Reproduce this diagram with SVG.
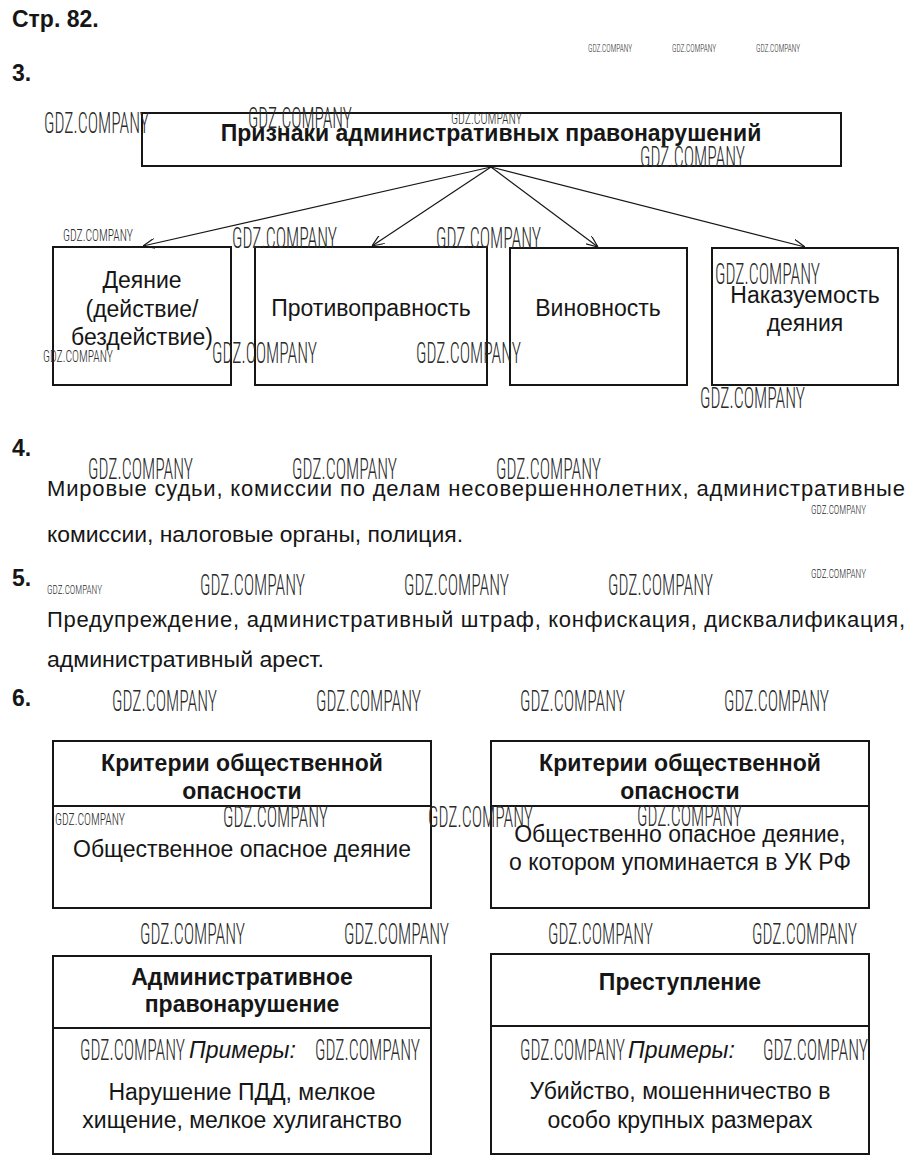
<svg xmlns="http://www.w3.org/2000/svg" width="917" height="1170" viewBox="0 0 917 1170">
<defs>
<style>
.t{font-family:"Liberation Sans",Arial,sans-serif;font-size:23px;fill:#161616}
.p{font-size:22px}
.b{font-weight:bold}
.c{text-anchor:middle}
.i{font-style:italic}
.box{fill:none;stroke:#161616;stroke-width:2}
.div{stroke:#161616;stroke-width:2}
.con{stroke:#161616;stroke-width:1.2;fill:none}
.wm{font-family:"Roboto Condensed",Roboto,"Liberation Sans",sans-serif;font-weight:300;fill:#2a2a2a}
.L{font-size:29px}
.S{font-size:17px}
.T{font-size:11px}
.U{font-size:13px}
</style>
<marker id="arr" viewBox="0 0 12 10" refX="12" refY="5" markerWidth="12" markerHeight="10" markerUnits="userSpaceOnUse" orient="auto">
<path d="M0,0 L12,5 L0,10" fill="none" stroke="#161616" stroke-width="1.2"/>
</marker>
</defs>
<rect width="917" height="1170" fill="#ffffff"/>

<g id="headings">
<text class="t b" x="12" y="27" font-size="22">Стр. 82.</text>
<text class="t b" x="12" y="81" font-size="20">3.</text>
<text class="t b" x="12" y="456" font-size="20">4.</text>
<text class="t b" x="12" y="586" font-size="20">5.</text>
<text class="t b" x="12" y="706" font-size="20">6.</text>
</g>

<g id="connectors">
<line class="con" x1="491" y1="167" x2="143" y2="246" marker-end="url(#arr)"/>
<line class="con" x1="491" y1="167" x2="372" y2="246" marker-end="url(#arr)"/>
<line class="con" x1="491" y1="167" x2="598" y2="247" marker-end="url(#arr)"/>
<line class="con" x1="491" y1="167" x2="805" y2="247" marker-end="url(#arr)"/>
</g>

<g id="node-title">
<rect class="box" x="142" y="113" width="699" height="53"/>
<text class="t b c" x="491" y="141">Признаки административных правонарушений</text>
</g>
<g id="node-deyanie">
<rect class="box" x="53" y="247" width="178" height="138"/>
<text class="t c" x="142" y="288">Деяние</text>
<text class="t c" x="142" y="317">(действие/</text>
<text class="t c" x="142" y="345">бездействие)</text>
</g>
<g id="node-protivopravnost">
<rect class="box" x="255" y="247" width="232" height="138"/>
<text class="t c" x="371" y="316">Противоправность</text>
</g>
<g id="node-vinovnost">
<rect class="box" x="510" y="248" width="177" height="137"/>
<text class="t c" x="598" y="316">Виновность</text>
</g>
<g id="node-nakazuemost">
<rect class="box" x="712" y="248" width="186" height="137"/>
<text class="t c" x="805" y="303">Наказуемость</text>
<text class="t c" x="805" y="331">деяния</text>
</g>

<g id="answer-4">
<text class="t p" x="47" y="496" textLength="858" lengthAdjust="spacing">Мировые судьи, комиссии по делам несовершеннолетних, административные</text>
<text class="t p" x="47" y="542" textLength="416" lengthAdjust="spacingAndGlyphs">комиссии, налоговые органы, полиция.</text>
</g>
<g id="answer-5">
<text class="t p" x="47" y="627" textLength="858" lengthAdjust="spacing">Предупреждение, административный штраф, конфискация, дисквалификация,</text>
<text class="t p" x="47" y="667" textLength="277" lengthAdjust="spacingAndGlyphs">административный арест.</text>
</g>

<g id="node-criteria-left">
<rect class="box" x="53" y="741" width="378" height="167"/>
<line class="div" x1="53" y1="806" x2="431" y2="806"/>
<text class="t b c" x="242" y="771">Критерии общественной</text>
<text class="t b c" x="242" y="799">опасности</text>
<text class="t c" x="242" y="857">Общественное опасное деяние</text>
</g>
<g id="node-criteria-right">
<rect class="box" x="491" y="741" width="378" height="167"/>
<line class="div" x1="491" y1="806" x2="869" y2="806"/>
<text class="t b c" x="680" y="771">Критерии общественной</text>
<text class="t b c" x="680" y="799">опасности</text>
<text class="t c" x="680" y="842">Общественно опасное деяние,</text>
<text class="t c" x="680" y="870">о котором упоминается в УК РФ</text>
</g>
<g id="node-admin">
<rect class="box" x="53" y="956" width="378" height="198"/>
<line class="div" x1="53" y1="1028" x2="431" y2="1028"/>
<text class="t b c" x="242" y="985">Административное</text>
<text class="t b c" x="242" y="1012">правонарушение</text>
<text class="t i" x="189" y="1058">Примеры:</text>
<text class="t c" x="242" y="1100">Нарушение ПДД, мелкое</text>
<text class="t c" x="242" y="1128">хищение, мелкое хулиганство</text>
</g>
<g id="node-crime">
<rect class="box" x="491" y="954" width="378" height="200"/>
<line class="div" x1="491" y1="1026" x2="869" y2="1026" stroke-width="3.5"/>
<text class="t b c" x="680" y="990">Преступление</text>
<text class="t i" x="628" y="1058">Примеры:</text>
<text class="t c" x="680" y="1099">Убийство, мошенничество в</text>
<text class="t c" x="680" y="1128">особо крупных размерах</text>
</g>

<g id="watermarks">
<text class="wm T" x="588" y="52" textLength="44" lengthAdjust="spacingAndGlyphs">GDZ.COMPANY</text>
<text class="wm T" x="672" y="52" textLength="44" lengthAdjust="spacingAndGlyphs">GDZ.COMPANY</text>
<text class="wm T" x="756" y="52" textLength="44" lengthAdjust="spacingAndGlyphs">GDZ.COMPANY</text>
<text class="wm L" x="44" y="133" textLength="105" lengthAdjust="spacingAndGlyphs">GDZ.COMPANY</text>
<text class="wm L" x="248" y="128" textLength="104" lengthAdjust="spacingAndGlyphs">GDZ.COMPANY</text>
<text class="wm S" x="451" y="124" textLength="71" lengthAdjust="spacingAndGlyphs">GDZ.COMPANY</text>
<text class="wm L" x="640" y="167" textLength="105" lengthAdjust="spacingAndGlyphs">GDZ.COMPANY</text>
<text class="wm S" x="63" y="241" textLength="70" lengthAdjust="spacingAndGlyphs">GDZ.COMPANY</text>
<text class="wm L" x="232" y="248" textLength="105" lengthAdjust="spacingAndGlyphs">GDZ.COMPANY</text>
<text class="wm L" x="436" y="248" textLength="105" lengthAdjust="spacingAndGlyphs">GDZ.COMPANY</text>
<text class="wm S" x="43" y="362" textLength="70" lengthAdjust="spacingAndGlyphs">GDZ.COMPANY</text>
<text class="wm L" x="212" y="363" textLength="105" lengthAdjust="spacingAndGlyphs">GDZ.COMPANY</text>
<text class="wm L" x="416" y="363" textLength="105" lengthAdjust="spacingAndGlyphs">GDZ.COMPANY</text>
<text class="wm L" x="715" y="284" textLength="105" lengthAdjust="spacingAndGlyphs">GDZ.COMPANY</text>
<text class="wm L" x="700" y="408" textLength="105" lengthAdjust="spacingAndGlyphs">GDZ.COMPANY</text>
<text class="wm L" x="88" y="479" textLength="105" lengthAdjust="spacingAndGlyphs">GDZ.COMPANY</text>
<text class="wm L" x="292" y="479" textLength="105" lengthAdjust="spacingAndGlyphs">GDZ.COMPANY</text>
<text class="wm L" x="496" y="479" textLength="105" lengthAdjust="spacingAndGlyphs">GDZ.COMPANY</text>
<text class="wm U" x="811" y="514" textLength="55" lengthAdjust="spacingAndGlyphs">GDZ.COMPANY</text>
<text class="wm U" x="811" y="578" textLength="55" lengthAdjust="spacingAndGlyphs">GDZ.COMPANY</text>
<text class="wm U" x="47" y="594" textLength="55" lengthAdjust="spacingAndGlyphs">GDZ.COMPANY</text>
<text class="wm L" x="200" y="595" textLength="105" lengthAdjust="spacingAndGlyphs">GDZ.COMPANY</text>
<text class="wm L" x="404" y="595" textLength="105" lengthAdjust="spacingAndGlyphs">GDZ.COMPANY</text>
<text class="wm L" x="608" y="595" textLength="105" lengthAdjust="spacingAndGlyphs">GDZ.COMPANY</text>
<text class="wm L" x="112" y="711" textLength="105" lengthAdjust="spacingAndGlyphs">GDZ.COMPANY</text>
<text class="wm L" x="316" y="711" textLength="105" lengthAdjust="spacingAndGlyphs">GDZ.COMPANY</text>
<text class="wm L" x="520" y="711" textLength="105" lengthAdjust="spacingAndGlyphs">GDZ.COMPANY</text>
<text class="wm L" x="724" y="711" textLength="105" lengthAdjust="spacingAndGlyphs">GDZ.COMPANY</text>
<text class="wm S" x="55" y="825" textLength="70" lengthAdjust="spacingAndGlyphs">GDZ.COMPANY</text>
<text class="wm L" x="223" y="827" textLength="105" lengthAdjust="spacingAndGlyphs">GDZ.COMPANY</text>
<text class="wm L" x="428" y="827" textLength="105" lengthAdjust="spacingAndGlyphs">GDZ.COMPANY</text>
<text class="wm L" x="637" y="826" textLength="105" lengthAdjust="spacingAndGlyphs">GDZ.COMPANY</text>
<text class="wm L" x="140" y="944" textLength="105" lengthAdjust="spacingAndGlyphs">GDZ.COMPANY</text>
<text class="wm L" x="344" y="944" textLength="105" lengthAdjust="spacingAndGlyphs">GDZ.COMPANY</text>
<text class="wm L" x="548" y="944" textLength="105" lengthAdjust="spacingAndGlyphs">GDZ.COMPANY</text>
<text class="wm L" x="752" y="944" textLength="105" lengthAdjust="spacingAndGlyphs">GDZ.COMPANY</text>
<text class="wm L" x="80" y="1060" textLength="105" lengthAdjust="spacingAndGlyphs">GDZ.COMPANY</text>
<text class="wm L" x="315" y="1060" textLength="105" lengthAdjust="spacingAndGlyphs">GDZ.COMPANY</text>
<text class="wm L" x="520" y="1060" textLength="105" lengthAdjust="spacingAndGlyphs">GDZ.COMPANY</text>
<text class="wm L" x="763" y="1060" textLength="105" lengthAdjust="spacingAndGlyphs">GDZ.COMPANY</text>
</g>
</svg>
